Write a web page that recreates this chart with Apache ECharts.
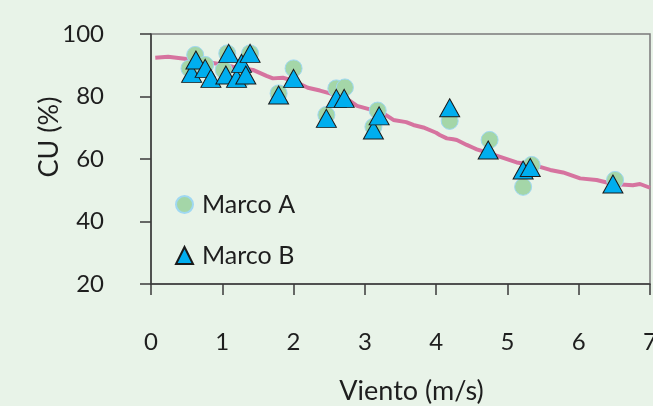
<!DOCTYPE html>
<html>
<head>
<meta charset="utf-8">
<script src="https://cdn.jsdelivr.net/npm/echarts@6/dist/echarts.min.js"></script>
<style>
html,body{margin:0;padding:0;background:#e8f3e8;}
#c{width:653px;height:406px;}
</style>
</head>
<body>
<div id="c"></div>
<script>
const marcoAX = [0.54,0.62,0.76,1.02,1.07,1.29,1.39,1.79,2.0,2.46,2.6,2.72,3.12,3.18,4.19,4.75,5.22,5.34,6.51];
const marcoAY = [89.0,93.3,90.1,88.5,93.8,85.8,93.8,81.0,89.0,74.1,82.6,82.9,70.3,75.5,72.2,66.1,51.1,58.1,53.3];
const marcoBX = [0.57,0.63,0.76,0.84,1.05,1.09,1.2,1.27,1.33,1.39,1.79,2.0,2.46,2.6,2.71,3.12,3.2,4.19,4.73,5.22,5.32,6.48];
const marcoBY = [87.4,91.7,89.0,85.8,86.9,93.8,85.8,90.6,86.9,93.8,80.5,85.8,73.0,79.4,79.4,69.3,73.8,76.4,62.9,56.5,57.3,52.0];
const trendX = [0.06,0.24,0.5,0.6,0.69,0.83,0.97,1.15,1.43,1.62,1.71,1.85,1.99,2.2,2.37,2.51,2.75,2.89,3.07,3.26,3.4,3.58,3.68,3.82,4.0,4.05,4.15,4.24,4.29,4.43,4.52,4.57,4.75,5.13,5.36,5.6,5.78,6.02,6.25,6.48,6.76,6.86,7.0];
const trendY = [92.4,92.7,92.0,91.8,91.0,90.9,90.3,89.5,88.5,86.6,85.8,86.0,85.1,82.8,81.9,81.0,79.2,77.0,75.9,74.6,72.5,71.8,70.9,70.1,68.4,67.7,66.6,66.3,66.1,64.5,63.6,63.1,61.8,58.9,58.1,56.5,55.7,53.8,53.3,52.0,51.6,52.0,50.8];
const xTicks = [0,1,2,3,4,5,6,7];
const yTicks = [20,40,60,80,100];

const zip = (a,b) => a.map((v,i)=>[v,b[i]]);
const FONT = 'Lato';
const FS = 24;
const TXT = '#1e1e1e';
const chart = echarts.init(document.getElementById('c'), null, {renderer:'canvas'});
chart.setOption({
  backgroundColor: '#e8f3e8',
  animation: false,
  textStyle: {fontFamily: FONT},
  grid: {left:151, right:3, top:34, bottom:122, outerBoundsMode:'none', containLabel:false,
         show:true, borderColor:'#7a7a7a', borderWidth:1.5, backgroundColor:'transparent'},
  legend: {
    data: ['Marco A','Marco B'],
    orient: 'vertical', left: 175, top: 192, padding: 0,
    itemWidth: 17, itemHeight: 17, itemGap: 26,
    textStyle: {fontSize: 25, color: TXT, fontFamily: FONT, lineHeight: 17, padding:[0,0,0,4]}
  },
  xAxis: {
    type: 'value', min: xTicks[0], max: xTicks[xTicks.length-1], interval: 1,
    name: 'Viento (m/s)', nameLocation: 'middle', nameGap: 94, nameMoveOverlap: false,
    nameTextStyle: {fontSize: 27, color: TXT, fontFamily: FONT, padding:[0,0,0,22]},
    axisLine: {show:true, onZero:false, lineStyle:{color:'#3a3a3a', width:1.5}},
    axisTick: {show:true, length:11, lineStyle:{color:'#3a3a3a', width:1.5}},
    axisLabel: {fontSize: FS, color: TXT, margin: 46, fontFamily: FONT},
    splitLine: {show:false}
  },
  yAxis: {
    type: 'value', min: yTicks[0], max: yTicks[yTicks.length-1], interval: 20,
    name: 'CU (%)', nameLocation: 'middle', nameGap: 88, nameRotate: 90, nameMoveOverlap: false,
    nameTextStyle: {fontSize: 27, color: TXT, fontFamily: FONT, padding:[0,0,0,44]},
    axisLine: {show:true, onZero:false, lineStyle:{color:'#3a3a3a', width:1.5}},
    axisTick: {show:true, length:11, lineStyle:{color:'#3a3a3a', width:1.5}},
    axisLabel: {fontSize: FS, color: TXT, margin: 47, fontFamily: FONT},
    splitLine: {show:false}
  },
  series: [
    {
      name: 'Tendencia', type: 'line', data: zip(trendX, trendY),
      showSymbol: false, symbol: 'none', smooth: false, z: 2,
      lineStyle: {color:'#d6739f', width:4}
    },
    {
      name: 'Marco A', type: 'scatter', data: zip(marcoAX, marcoAY),
      symbol: 'circle', symbolSize: 17, z: 3,
      itemStyle: {color:'#a4d6a8', borderColor:'#9fd8f2', borderWidth:1, opacity:1}
    },
    {
      name: 'Marco B', type: 'scatter', data: zip(marcoBX, marcoBY),
      symbol: 'triangle', symbolSize: [20,18], z: 4,
      itemStyle: {color:'#00aeef', borderColor:'#1a1a1a', borderWidth:1, opacity:1}
    }
  ]
});
</script>
</body>
</html>
